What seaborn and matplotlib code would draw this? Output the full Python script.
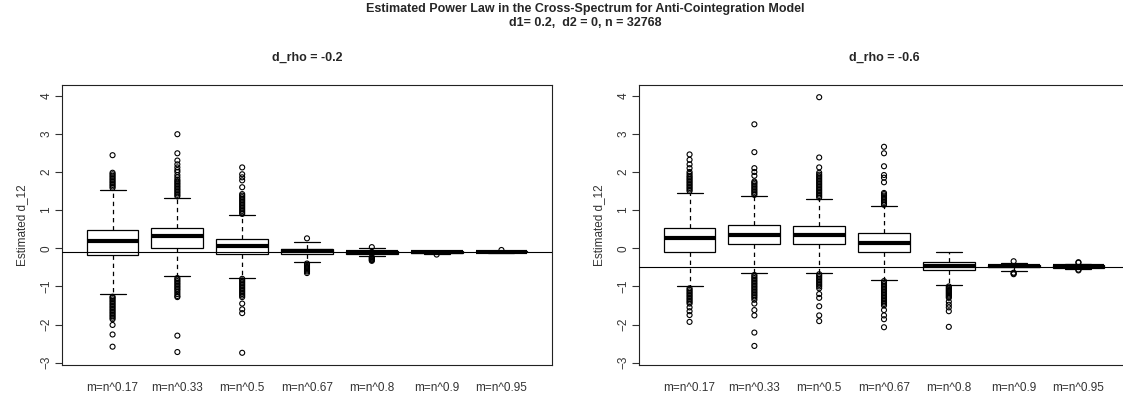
import numpy as np
import pandas as pd
import matplotlib
matplotlib.use('Agg')
import matplotlib.pyplot as plt
import seaborn as sns

# Data
labels = ['m=n^0.17', 'm=n^0.33', 'm=n^0.5', 'm=n^0.67', 'm=n^0.8', 'm=n^0.9', 'm=n^0.95']

# five numbers per box: lower whisker, Q1, median, Q3, upper whisker
stats_rho02 = [
    [-1.21, -0.18, 0.20, 0.475, 1.53],
    [-0.74, 0.02, 0.32, 0.54, 1.32],
    [-0.77, -0.155, 0.06, 0.25, 0.86],
    [-0.37, -0.15, -0.08, -0.02, 0.17],
    [-0.21, -0.14, -0.10, -0.07, 0.0],
    [-0.15, -0.135, -0.11, -0.08, -0.06],
    [-0.115, -0.105, -0.09, -0.07, -0.06],
]
out_rho02 = [
    [1.58, 1.62, 1.66, 1.70, 1.74, 1.78, 1.82, 1.86, 1.90, 1.94, 1.98, 2.44,
     -1.27, -1.30, -1.34, -1.38, -1.42, -1.46, -1.50, -1.54, -1.58, -1.62, -1.66,
     -1.70, -1.74, -1.78, -1.82, -1.86, -2.01, -2.26, -2.58],
    [1.36, 1.40, 1.44, 1.48, 1.52, 1.56, 1.60, 1.64, 1.68, 1.72, 1.76, 1.80, 1.86,
     1.92, 2.00, 2.05, 2.12, 2.20, 2.30, 2.49, 2.99,
     -0.78, -0.82, -0.86, -0.90, -0.94, -0.98, -1.02, -1.06, -1.10, -1.15, -1.20,
     -1.25, -1.28, -2.29, -2.72],
    [0.90, 0.94, 0.98, 1.02, 1.06, 1.10, 1.14, 1.18, 1.22, 1.26, 1.30, 1.34, 1.38,
     1.42, 1.60, 1.78, 1.86, 1.94, 2.12,
     -0.80, -0.84, -0.88, -0.92, -0.96, -1.00, -1.04, -1.08, -1.12, -1.16, -1.20,
     -1.24, -1.28, -1.45, -1.60, -1.70, -2.74],
    [0.26, -0.40, -0.43, -0.46, -0.49, -0.52, -0.55, -0.58, -0.61, -0.65],
    [0.03, -0.23, -0.25, -0.27, -0.29, -0.31, -0.33],
    [-0.165],
    [-0.045],
]

stats_rho06 = [
    [-0.99, -0.11, 0.265, 0.54, 1.44],
    [-0.66, 0.10, 0.335, 0.60, 1.36],
    [-0.64, 0.10, 0.36, 0.58, 1.29],
    [-0.82, -0.085, 0.15, 0.405, 1.10],
    [-0.96, -0.58, -0.46, -0.35, -0.085],
    [-0.60, -0.50, -0.475, -0.45, -0.375],
    [-0.55, -0.51, -0.47, -0.43, -0.40],
]
out_rho06 = [
    [1.50, 1.54, 1.58, 1.62, 1.66, 1.70, 1.74, 1.78, 1.82, 1.86, 1.90, 1.95, 2.00,
     2.10, 2.20, 2.32, 2.46,
     -1.05, -1.09, -1.13, -1.17, -1.21, -1.25, -1.29, -1.33, -1.37, -1.41, -1.45,
     -1.55, -1.65, -1.75, -1.93],
    [1.40, 1.44, 1.48, 1.52, 1.56, 1.60, 1.64, 1.68, 1.72, 1.75, 1.90, 2.00, 2.10,
     2.52, 3.25,
     -0.70, -0.74, -0.78, -0.82, -0.86, -0.90, -0.94, -0.98, -1.02, -1.06, -1.10,
     -1.14, -1.18, -1.22, -1.26, -1.30, -1.35, -1.45, -1.62, -1.76, -2.21, -2.56],
    [1.33, 1.37, 1.41, 1.45, 1.49, 1.53, 1.57, 1.61, 1.65, 1.69, 1.73, 1.77, 1.81,
     1.85, 1.89, 1.93, 1.98, 2.12, 2.38, 3.96,
     -0.68, -0.72, -0.76, -0.80, -0.84, -0.88, -0.92, -0.96, -1.00, -1.05, -1.20,
     -1.30, -1.52, -1.76, -1.91],
    [1.14, 1.18, 1.22, 1.26, 1.30, 1.34, 1.38, 1.42, 1.45, 1.73, 1.85, 1.92, 2.15,
     2.49, 2.66,
     -0.86, -0.90, -0.94, -0.98, -1.02, -1.06, -1.10, -1.14, -1.18, -1.22, -1.26,
     -1.30, -1.34, -1.38, -1.42, -1.46, -1.50, -1.62, -1.76, -1.86, -2.07],
    [-1.00, -1.03, -1.06, -1.09, -1.12, -1.15, -1.18, -1.21, -1.24, -1.27, -1.30,
     -1.40, -1.48, -1.55, -1.65, -2.06],
    [-0.34, -0.64, -0.66, -0.68],
    [-0.365, -0.38, -0.56, -0.58],
]

hline_rho02 = -0.1
hline_rho06 = -0.5


def long_frame(rows):
    return pd.DataFrame([(lab, v) for lab, vals in zip(labels, rows) for v in vals],
                        columns=['m', 'd12'])


sns.set_style('white')
plt.rcParams['font.family'] = ['Liberation Sans', 'DejaVu Sans']

fig = plt.figure(figsize=(11.23, 4), dpi=100)
ax1 = fig.add_axes([62 / 1123, 35 / 400, 490 / 1123, 280 / 400])
ax2 = fig.add_axes([639 / 1123, 35 / 400, 490 / 1123, 280 / 400])


def draw(ax, stats, outliers, hline, title):
    sns.boxplot(data=long_frame(stats), x='m', y='d12', order=labels, ax=ax,
                whis=np.inf, width=0.8, color='white', linecolor='black',
                linewidth=0.9, showfliers=False,
                medianprops=dict(linewidth=3, color='black'),
                whiskerprops=dict(linestyle=(0, (3.5, 3))))
    sns.stripplot(data=long_frame(outliers), x='m', y='d12', order=labels, ax=ax,
                  jitter=False, size=3.6, marker='o', linewidth=0.8,
                  edgecolor='black', color='white')
    for c in ax.collections:
        c.set_facecolor('none')
    ax.axhline(hline, color='black', lw=0.8, zorder=5)

    ax.set_xlim(-0.78, 6.78)
    ax.set_ylim(-3.06, 4.28)
    ax.set_yticks(range(-3, 5))
    ax.set_xlabel('')
    ax.set_ylabel('Estimated d_12', fontsize=8.5, color='#333333')
    ax.yaxis.set_label_coords(-0.07, 0.5)
    ax.tick_params(axis='both', direction='out', length=5, width=0.8,
                   color='#333333', labelcolor='#333333', labelsize=8.5)
    ax.tick_params(axis='x', pad=7)
    ax.tick_params(axis='y', pad=2, labelrotation=90, left=True)
    for t in ax.get_yticklabels():
        t.set_va('center')
    for s in ax.spines.values():
        s.set_visible(True)
        s.set_color('#222222')
        s.set_linewidth(0.8)
    ax.text(0.5, 1 + 27 / 280, title, transform=ax.transAxes, ha='center',
            va='center', fontsize=9, fontweight='bold')


draw(ax1, stats_rho02, out_rho02, hline_rho02, 'd_rho = -0.2')
draw(ax2, stats_rho06, out_rho06, hline_rho06, 'd_rho = -0.6')

fig.text(0.521, 1 - 9 / 400, 'Estimated Power Law in the Cross-Spectrum for Anti-Cointegration Model',
         ha='center', va='center', fontsize=9, fontweight='bold')
fig.text(0.521, 1 - 23 / 400, 'd1= 0.2,  d2 = 0, n = 32768',
         ha='center', va='center', fontsize=9, fontweight='bold')

fig.savefig('out.png', dpi=100)
